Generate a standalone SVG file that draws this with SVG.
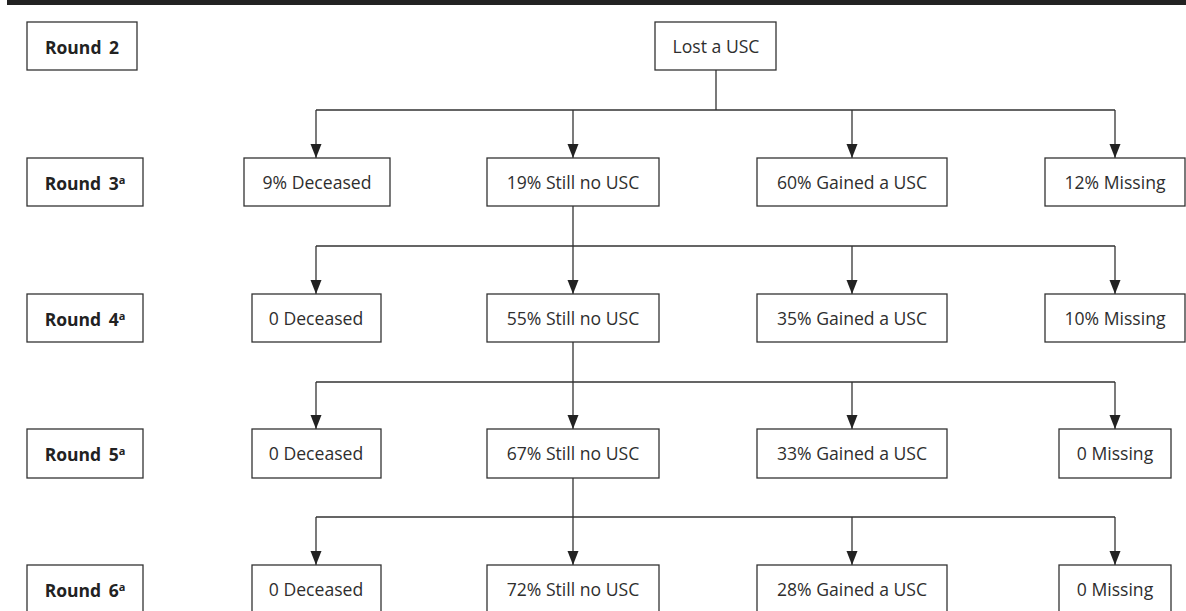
<svg xmlns="http://www.w3.org/2000/svg" width="1186" height="611" viewBox="0 0 1186 611">
<style>
.box{fill:#fff;stroke:#333;stroke-width:1.3}
.t{font-family:"Open Sans","Noto Sans",sans-serif;font-size:17.6px;fill:#2e2e2e;text-anchor:middle}
.b{font-weight:bold;font-size:17.5px;word-spacing:3px;fill:#222}
.sup{font-size:11px}
.c{fill:none;stroke:#333;stroke-width:1.3}
</style>
<defs>
<marker id="ah" markerUnits="userSpaceOnUse" markerWidth="14" markerHeight="12" refX="14" refY="6" orient="auto" viewBox="0 0 14 12">
<path d="M0,0.5 L14,6 L0,11.5 z" fill="#222"/>
</marker>
</defs>
<rect x="7" y="0" width="1179" height="5" fill="#222"/>
<g id="connectors">
<path class="c" d="M716,70 V110 M316,110 H1115"/>
<path class="c" marker-end="url(#ah)" d="M316,110 V158"/>
<path class="c" marker-end="url(#ah)" d="M573,110 V158"/>
<path class="c" marker-end="url(#ah)" d="M852,110 V158"/>
<path class="c" marker-end="url(#ah)" d="M1115,110 V158"/>
<path class="c" d="M573,206 V246 M316,246 H1115"/>
<path class="c" marker-end="url(#ah)" d="M316,246 V294"/>
<path class="c" marker-end="url(#ah)" d="M573,246 V294"/>
<path class="c" marker-end="url(#ah)" d="M852,246 V294"/>
<path class="c" marker-end="url(#ah)" d="M1115,246 V294"/>
<path class="c" d="M573,342 V382 M316,382 H1115"/>
<path class="c" marker-end="url(#ah)" d="M316,382 V429"/>
<path class="c" marker-end="url(#ah)" d="M573,382 V429"/>
<path class="c" marker-end="url(#ah)" d="M852,382 V429"/>
<path class="c" marker-end="url(#ah)" d="M1115,382 V429"/>
<path class="c" d="M573,478 V517 M316,517 H1115"/>
<path class="c" marker-end="url(#ah)" d="M316,517 V565"/>
<path class="c" marker-end="url(#ah)" d="M573,517 V565"/>
<path class="c" marker-end="url(#ah)" d="M852,517 V565"/>
<path class="c" marker-end="url(#ah)" d="M1115,517 V565"/>
</g>
<g id="round2"><rect class="box" x="27" y="22" width="110" height="48"/><text class="t b" x="82" y="54">Round 2</text></g>
<g id="lost"><rect class="box" x="655" y="22" width="121" height="48"/><text class="t" x="716" y="53">Lost a USC</text></g>

<g id="round3"><rect class="box" x="27" y="158" width="116" height="48"/><text class="t b" x="85" y="190">Round 3<tspan class="sup" dy="-6">a</tspan></text></g>
<g id="r3-deceased"><rect class="box" x="244" y="158" width="146" height="48"/><text class="t" x="317" y="189">9% Deceased</text></g>
<g id="r3-still"><rect class="box" x="487" y="158" width="172" height="48"/><text class="t" x="573" y="189">19% Still no USC</text></g>
<g id="r3-gained"><rect class="box" x="757" y="158" width="190" height="48"/><text class="t" x="852" y="189">60% Gained a USC</text></g>
<g id="r3-missing"><rect class="box" x="1045" y="158" width="140" height="48"/><text class="t" x="1115" y="189">12% Missing</text></g>

<g id="round4"><rect class="box" x="27" y="294" width="116" height="48"/><text class="t b" x="85" y="326">Round 4<tspan class="sup" dy="-6">a</tspan></text></g>
<g id="r4-deceased"><rect class="box" x="252" y="294" width="129" height="48"/><text class="t" x="316" y="325">0 Deceased</text></g>
<g id="r4-still"><rect class="box" x="487" y="294" width="172" height="48"/><text class="t" x="573" y="325">55% Still no USC</text></g>
<g id="r4-gained"><rect class="box" x="757" y="294" width="190" height="48"/><text class="t" x="852" y="325">35% Gained a USC</text></g>
<g id="r4-missing"><rect class="box" x="1045" y="294" width="140" height="48"/><text class="t" x="1115" y="325">10% Missing</text></g>

<g id="round5"><rect class="box" x="27" y="429" width="116" height="49"/><text class="t b" x="85" y="461">Round 5<tspan class="sup" dy="-6">a</tspan></text></g>
<g id="r5-deceased"><rect class="box" x="252" y="429" width="129" height="49"/><text class="t" x="316" y="460">0 Deceased</text></g>
<g id="r5-still"><rect class="box" x="487" y="429" width="172" height="49"/><text class="t" x="573" y="460">67% Still no USC</text></g>
<g id="r5-gained"><rect class="box" x="757" y="429" width="190" height="49"/><text class="t" x="852" y="460">33% Gained a USC</text></g>
<g id="r5-missing"><rect class="box" x="1059" y="429" width="112" height="49"/><text class="t" x="1115" y="460">0 Missing</text></g>

<g id="round6"><rect class="box" x="27" y="565" width="116" height="49"/><text class="t b" x="85" y="597">Round 6<tspan class="sup" dy="-6">a</tspan></text></g>
<g id="r6-deceased"><rect class="box" x="252" y="565" width="129" height="49"/><text class="t" x="316" y="596">0 Deceased</text></g>
<g id="r6-still"><rect class="box" x="487" y="565" width="172" height="49"/><text class="t" x="573" y="596">72% Still no USC</text></g>
<g id="r6-gained"><rect class="box" x="757" y="565" width="190" height="49"/><text class="t" x="852" y="596">28% Gained a USC</text></g>
<g id="r6-missing"><rect class="box" x="1059" y="565" width="112" height="49"/><text class="t" x="1115" y="596">0 Missing</text></g>
</svg>
